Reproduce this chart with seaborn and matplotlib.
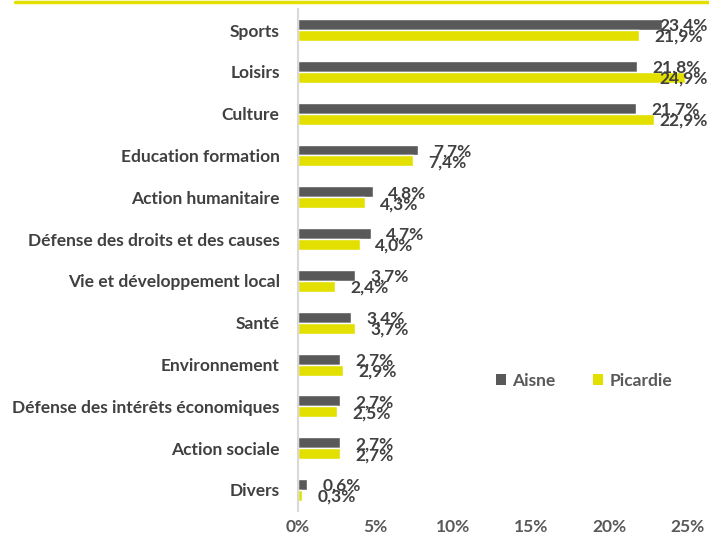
import matplotlib
matplotlib.use("Agg")
import matplotlib.pyplot as plt
import seaborn as sns
import pandas as pd
from matplotlib.lines import Line2D
from matplotlib.patches import Patch
from matplotlib.transforms import offset_copy

categories = ["Sports", "Loisirs", "Culture", "Education formation", "Action humanitaire",
              "Défense des droits et des causes", "Vie et développement local", "Santé",
              "Environnement", "Défense des intérêts économiques", "Action sociale", "Divers"]
aisne = [23.4, 21.8, 21.7, 7.7, 4.8, 4.7, 3.7, 3.4, 2.7, 2.7, 2.7, 0.6]
picardie = [21.9, 24.9, 22.9, 7.4, 4.3, 4.0, 2.4, 3.7, 2.9, 2.5, 2.7, 0.3]
series = ["Aisne", "Picardie"]
xticks = [0, 5, 10, 15, 20, 25]

df = pd.DataFrame({
    "cat": categories * 2,
    "val": aisne + picardie,
    "serie": [series[0]] * len(categories) + [series[1]] * len(categories),
})

sns.set_theme(style="white")
plt.rcParams["font.family"] = ["Lato", "DejaVu Sans"]

FS = 12.5
colors = {"Aisne": "#595959", "Picardie": "#E3E000"}
fig = plt.figure(figsize=(7.09, 5.40), dpi=100)
ax = fig.add_axes([0.420, 0.054, 0.549, 0.929])
sns.barplot(data=df, y="cat", x="val", hue="serie", order=categories, hue_order=series,
            palette=colors, width=0.526, orient="h", ax=ax, legend=False, saturation=1)

ax.set_xlim(0, 25)
ax.set_ylim(11.5, -0.5)
ax.set_xticks(xticks)
ax.set_xticklabels([f"{t}%" for t in xticks], fontsize=FS, fontweight="bold", color="#595959")
ax.tick_params(axis="x", length=0, pad=6)
ax.tick_params(axis="y", length=0, pad=13)
for lbl in ax.get_yticklabels():
    lbl.set_fontsize(FS)
    lbl.set_fontweight("bold")
    lbl.set_color("#404040")
ax.set_xlabel("")
ax.set_ylabel("")
for s in ["top", "right", "bottom"]:
    ax.spines[s].set_visible(False)
ax.spines["left"].set_color("#D9D9D9")
ax.spines["left"].set_linewidth(1.5)

labels = []
for ci, cont in enumerate(ax.containers):
    for bar in cont:
        w = bar.get_width()
        yc = bar.get_y() + bar.get_height() / 2
        txt = f"{w:.1f}".replace(".", ",") + "%"
        t = ax.text(w, yc, txt, ha="left", va="center", fontsize=FS, fontweight="bold",
                    color="#404040", clip_on=False,
                    transform=offset_copy(ax.transData, fig=fig, x=11, y=-1, units="points"))
        labels.append((t, w, yc))

fig.canvas.draw()
renderer = fig.canvas.get_renderer()
max_right = 708
for t, w, yc in labels:
    bb = t.get_window_extent(renderer)
    if bb.x1 > max_right:
        shift_px = bb.x1 - max_right
        t.set_transform(offset_copy(ax.transData, fig=fig, x=11 - shift_px * 72 / fig.dpi,
                                    y=-1, units="points"))

handles = [Patch(facecolor=colors[s], edgecolor="none") for s in series]
leg = ax.legend(handles, series, loc="center left", bbox_to_anchor=(0.509, 0.259), ncol=2,
                frameon=False, handlelength=0.57, handleheight=0.57, columnspacing=2.2,
                handletextpad=0.35, borderpad=0, borderaxespad=0,
                prop={"size": FS, "weight": "bold"})
for t in leg.get_texts():
    t.set_color("#595959")

fig.add_artist(Line2D([15 / 709, 1.0], [0.996, 0.996], color="#E3E000", linewidth=2.5,
                      transform=fig.transFigure))

fig.savefig("out.png", dpi=100)
